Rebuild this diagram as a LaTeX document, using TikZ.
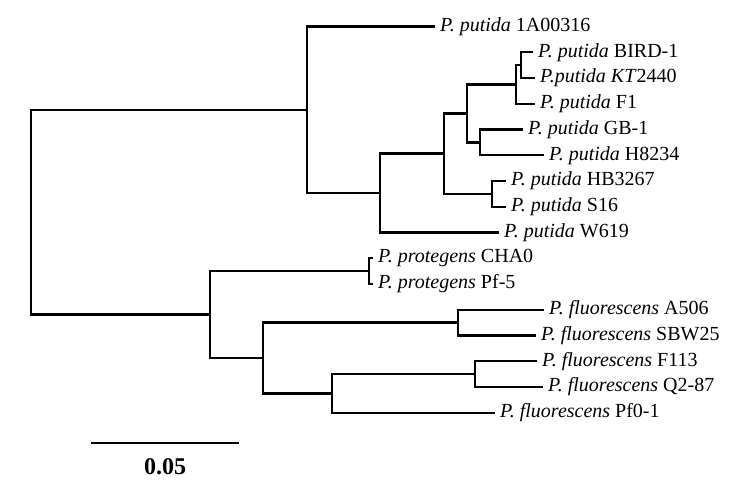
\documentclass[tikz,border=0pt]{standalone}
\usepackage{fontspec}
\setmainfont{Liberation Serif}
\begin{document}
\begin{tikzpicture}[x=1pt,y=-1pt,
  br/.style={line width=2.4pt},
  lab/.style={anchor=west, inner sep=0pt, xshift=5pt, font=\fontsize{20}{22}\selectfont},
  scl/.style={inner sep=0pt, font=\bfseries\fontsize{24}{26}\selectfont}]
\useasboundingbox (0,0) rectangle (729,482);
% leaves
\coordinate (L0) at (435,26.5);
\coordinate (L1) at (533,52.25);
\coordinate (L2) at (535,78);
\coordinate (L3) at (535,103.75);
\coordinate (L4) at (523,129.5);
\coordinate (L5) at (544,155.25);
\coordinate (L6) at (506,181);
\coordinate (L7) at (506,206.75);
\coordinate (L8) at (499,232.5);
\coordinate (L9) at (373,258.25);
\coordinate (L10) at (373,284);
\coordinate (L11) at (544,309.75);
\coordinate (L12) at (536,335.5);
\coordinate (L13) at (537,361.25);
\coordinate (L14) at (543,387);
\coordinate (L15) at (495,412.75);
% internal nodes
\coordinate (H) at (521,65.1);
\coordinate (G) at (516,84.4);
\coordinate (F) at (480,142.4);
\coordinate (D) at (467,113.4);
\coordinate (E) at (492,193.9);
\coordinate (C) at (444,153.6);
\coordinate (B) at (380,193.0);
\coordinate (A) at (307,109.8);
\coordinate (P) at (369,271.1);
\coordinate (J) at (458,322.6);
\coordinate (K) at (475,374.1);
\coordinate (L) at (332,393.4);
\coordinate (M) at (263,358.0);
\coordinate (N) at (210,314.6);
\coordinate (R) at (31,212.2);
% branches
\draw[br] (L1) -| (H) |- (L2);
\draw[br] (H) -| (G) |- (L3);
\draw[br] (L4) -| (F) |- (L5);
\draw[br] (G) -| (D) |- (F);
\draw[br] (L6) -| (E) |- (L7);
\draw[br] (D) -| (C) |- (E);
\draw[br] (C) -| (B) |- (L8);
\draw[br] (L0) -| (A) |- (B);
\draw[br] (L9) -| (P) |- (L10);
\draw[br] (L11) -| (J) |- (L12);
\draw[br] (L13) -| (K) |- (L14);
\draw[br] (K) -| (L) |- (L15);
\draw[br] (J) -| (M) |- (L);
\draw[br] (P) -| (N) |- (M);
\draw[br] (A) -| (R) |- (N);
% labels
\node[lab] (t0) at (L0) {\textit{P. putida} 1A00316};
\node[lab] (t1) at (L1) {\textit{P. putida} BIRD-1};
\node[lab] (t2) at (L2) {\textit{P.putida KT}2440};
\node[lab] (t3) at (L3) {\textit{P. putida} F1};
\node[lab] (t4) at (L4) {\textit{P. putida} GB-1};
\node[lab] (t5) at (L5) {\textit{P. putida} H8234};
\node[lab] (t6) at (L6) {\textit{P. putida} HB3267};
\node[lab] (t7) at (L7) {\textit{P. putida} S16};
\node[lab] (t8) at (L8) {\textit{P. putida} W619};
\node[lab] (t9) at (L9) {\textit{P. protegens} CHA0};
\node[lab] (t10) at (L10) {\textit{P. protegens} Pf-5};
\node[lab] (t11) at (L11) {\textit{P. fluorescens} A506};
\node[lab] (t12) at (L12) {\textit{P. fluorescens} SBW25};
\node[lab] (t13) at (L13) {\textit{P. fluorescens} F113};
\node[lab] (t14) at (L14) {\textit{P. fluorescens} Q2-87};
\node[lab] (t15) at (L15) {\textit{P. fluorescens} Pf0-1};
% scale bar
\coordinate (s1) at (91,443);
\coordinate (s2) at (239,443);
\draw[br] (s1) -- (s2);
\node[scl] (sl) at (165,467) {0.05};
\end{tikzpicture}
\end{document}
